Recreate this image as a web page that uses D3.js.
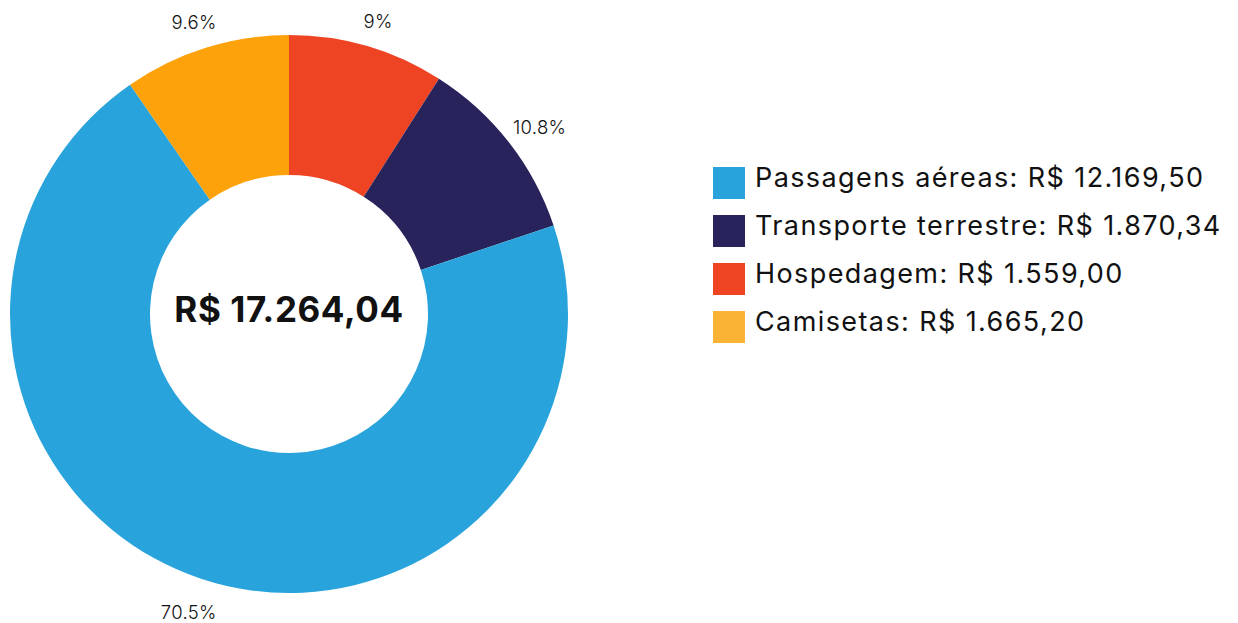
<!DOCTYPE html>
<html>
<head>
<meta charset="utf-8">
<script src="https://cdn.jsdelivr.net/npm/d3@7"></script>
<style>
  html, body { margin: 0; padding: 0; background: #fff; }
  svg { display: block; font-family: "Inter", "Noto Sans", sans-serif; }
</style>
</head>
<body>
<svg id="chart" width="1238" height="623"></svg>
<script>
// Data
const categories = ["Passagens aéreas", "Transporte terrestre", "Hospedagem", "Camisetas"];
const values = [12169.50, 1870.34, 1559.00, 1665.20];
const valueLabels = ["R$ 12.169,50", "R$ 1.870,34", "R$ 1.559,00", "R$ 1.665,20"];
const sliceOrder = ["Hospedagem", "Transporte terrestre", "Passagens aéreas", "Camisetas"];
const sliceColors = ["#29a3dc", "#29235c", "#ee4423", "#fda20b"];
const legendColors = ["#29a3dc", "#29235c", "#ee4423", "#f9b233"];
const totalLabel = "R$ 17.264,04";

const svg = d3.select("#chart");
const cx = 289, cy = 314, R = 279, r = 139, labelR = 310;

const data = sliceOrder.map(name => {
  const i = categories.indexOf(name);
  return { name, value: values[i], color: sliceColors[i] };
});
const total = d3.sum(values);

const pie = d3.pie().sort(null).value(d => d.value);
const arc = d3.arc().innerRadius(r).outerRadius(R);
const labelArc = d3.arc().innerRadius(labelR).outerRadius(labelR);
const fmt = d3.format(".1~f");

const g = svg.append("g").attr("transform", `translate(${cx},${cy})`);
const arcs = pie(data);

g.selectAll("path.slice").data(arcs).join("path")
  .attr("class", "slice")
  .attr("d", arc)
  .attr("fill", d => d.data.color);

g.selectAll("text.pct").data(arcs).join("text")
  .attr("class", "pct")
  .attr("transform", d => {
    const [x, y] = labelArc.centroid(d);
    const mid = (d.startAngle + d.endAngle) / 2;
    return `translate(${x + Math.sin(mid) * 8},${y})`;
  })
  .attr("text-anchor", "middle")
  .attr("dy", "0.6em")
  .attr("font-size", 18.5)
  .attr("font-weight", 300)
  .attr("letter-spacing", 0.3)
  .attr("fill", "#111")
  .text(d => fmt(d.data.value / total * 100) + "%");

g.append("text")
  .attr("text-anchor", "middle")
  .attr("y", 8)
  .attr("font-size", 35)
  .attr("font-weight", 700)
  .attr("letter-spacing", 0.6)
  .attr("fill", "#111")
  .text(totalLabel);

// Legend
const legend = svg.append("g").attr("transform", "translate(713,167)");
const rows = legend.selectAll("g.row").data(categories).join("g")
  .attr("class", "row")
  .attr("transform", (d, i) => `translate(0,${i * 48})`);
rows.append("rect")
  .attr("width", 32).attr("height", 32)
  .attr("fill", (d, i) => legendColors[i]);
rows.append("text")
  .attr("x", 42)
  .attr("y", 20)
  .attr("font-size", 27)
  .attr("letter-spacing", 1.4)
  .attr("fill", "#111")
  .text((d, i) => `${d}: ${valueLabels[i]}`);
</script>
</body>
</html>
